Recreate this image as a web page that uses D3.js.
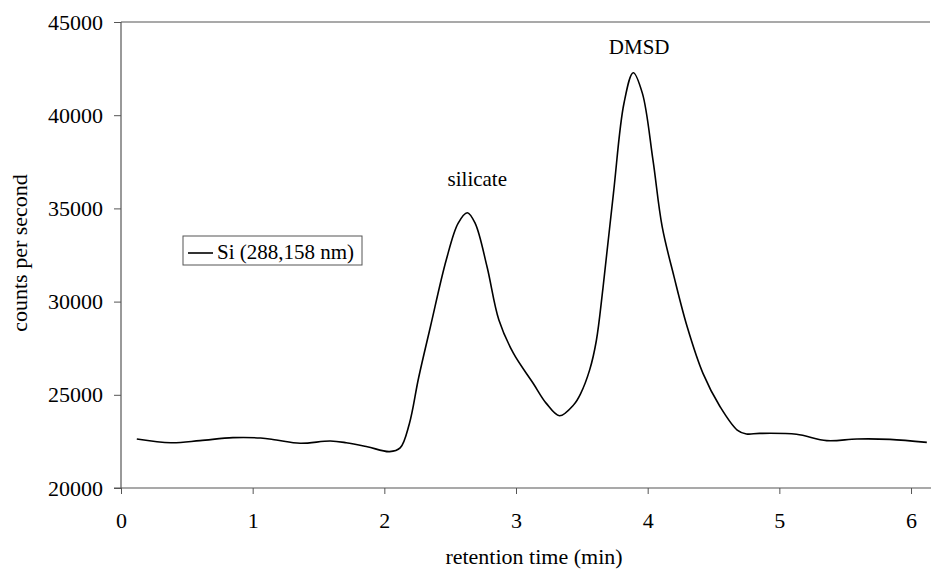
<!DOCTYPE html>
<html>
<head>
<meta charset="utf-8">
<script src="https://cdn.jsdelivr.net/npm/d3@7"></script>
<style>
  body { margin: 0; background: #fff; }
  svg { display: block; }
  svg text { font-family: "Times New Roman", "Liberation Serif", "DejaVu Serif", serif !important; }
</style>
</head>
<body>
<svg id="chart" width="931" height="569"></svg>
<script>
// Data
const times  = [0.12, 0.38, 0.60, 0.85, 1.06, 1.18, 1.36, 1.59, 1.71, 1.87, 2.04, 2.12, 2.19, 2.26, 2.35, 2.47, 2.56, 2.63, 2.69, 2.78, 2.87, 2.98, 3.13, 3.23, 3.33, 3.44, 3.49, 3.56, 3.61, 3.66, 3.74, 3.82, 3.89, 3.96, 4.04, 4.11, 4.20, 4.30, 4.42, 4.55, 4.68, 4.75, 4.85, 5.13, 5.36, 5.59, 5.84, 6.12];
const counts = [22630, 22430, 22540, 22700, 22680, 22575, 22400, 22520, 22430, 22215, 21950, 22150, 23450, 25900, 28650, 32230, 34200, 34770, 34200, 31870, 29010, 27230, 25620, 24540, 23880, 24480, 25050, 26350, 27900, 30700, 35810, 40640, 42280, 41170, 37600, 34020, 31340, 28650, 26150, 24360, 23110, 22900, 22930, 22880, 22540, 22630, 22610, 22450];
const xTicks = [0, 1, 2, 3, 4, 5, 6];
const yTicks = [20000, 25000, 30000, 35000, 40000, 45000];
const seriesName = "Si (288,158 nm)";
const peakLabels = [{t: 2.63, c: 34770, text: "silicate"}, {t: 3.89, c: 42280, text: "DMSD"}];

const svg = d3.select("#chart");
const mLeft = 121, mRight = 931, mTop = 22, mBottom = 488;

const x = d3.scaleLinear().domain([0, (mRight - mLeft) / 131.67]).range([mLeft, mRight]);
const y = d3.scaleLinear().domain([20000, 45000]).range([mBottom, mTop]);

const axisColor = "#555";

// X axis
const gx = svg.append("g").attr("transform", `translate(0,${mBottom})`)
  .call(d3.axisBottom(x).tickValues(xTicks).tickFormat(d3.format("d")).tickSize(6).tickSizeOuter(0).tickPadding(18));
gx.select(".domain").remove();
gx.selectAll(".tick line").attr("stroke", axisColor);
gx.selectAll("text").attr("font-size", 22).attr("fill", "#000");
svg.append("line").attr("x1", mLeft - 7).attr("x2", mRight).attr("y1", mBottom).attr("y2", mBottom)
  .attr("stroke", axisColor).attr("stroke-width", 1.2);

// Y axis
const gy = svg.append("g").attr("transform", `translate(${mLeft},0)`)
  .call(d3.axisLeft(y).tickValues(yTicks).tickFormat(d3.format("d")).tickSize(7).tickSizeOuter(0).tickPadding(11));
gy.select(".domain").remove();
gy.selectAll(".tick line").attr("stroke", axisColor);
gy.selectAll("text").attr("font-size", 22).attr("fill", "#000");
svg.append("line").attr("x1", mLeft).attr("x2", mLeft).attr("y1", mTop).attr("y2", mBottom)
  .attr("stroke", axisColor).attr("stroke-width", 1.2);

// Top border
svg.append("line").attr("x1", mLeft).attr("x2", mRight - 1).attr("y1", mTop).attr("y2", mTop)
  .attr("stroke", axisColor).attr("stroke-width", 1.2);

// Line
const data = times.map((t, i) => ({t, c: counts[i]}));
svg.append("path").datum(data)
  .attr("fill", "none").attr("stroke", "#000").attr("stroke-width", 1.6)
  .attr("d", d3.line().x(d => x(d.t)).y(d => y(d.c)).curve(d3.curveCatmullRom.alpha(0.5)));

// Peak labels
svg.append("text").attr("x", x(peakLabels[0].t) + 10).attr("y", 186).attr("text-anchor", "middle")
  .attr("font-size", 21).text(peakLabels[0].text);
svg.append("text").attr("x", x(peakLabels[1].t) + 6).attr("y", 54).attr("text-anchor", "middle")
  .attr("font-size", 21).text(peakLabels[1].text);

// Axis titles
svg.append("text").attr("transform", "translate(27,253) rotate(-90)").attr("text-anchor", "middle")
  .attr("font-size", 22).text("counts per second");
svg.append("text").attr("x", 534).attr("y", 564).attr("text-anchor", "middle")
  .attr("font-size", 22).text("retention time (min)");

// Legend
const lg = svg.append("g");
lg.append("rect").attr("x", 183).attr("y", 236).attr("width", 179).attr("height", 29)
  .attr("fill", "#fff").attr("stroke", axisColor).attr("stroke-width", 1);
lg.append("line").attr("x1", 188).attr("x2", 213).attr("y1", 253).attr("y2", 253)
  .attr("stroke", "#000").attr("stroke-width", 1.6);
lg.append("text").attr("x", 217).attr("y", 259).attr("font-size", 21).text(seriesName);
</script>
</body>
</html>
